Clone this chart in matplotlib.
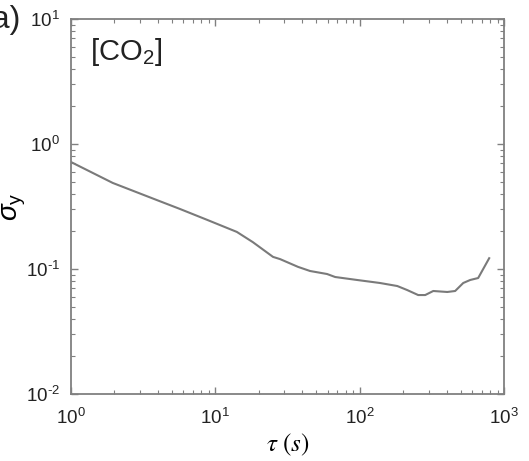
import math
import matplotlib
matplotlib.use('Agg')
import matplotlib.pyplot as plt
from matplotlib.ticker import LogLocator, FuncFormatter, NullFormatter

plt.rcParams['font.family'] = ['Liberation Sans', 'DejaVu Sans']
plt.rcParams['mathtext.fontset'] = 'custom'
plt.rcParams['mathtext.rm'] = 'Liberation Sans'
plt.rcParams['mathtext.it'] = 'Liberation Sans:italic'

# allan deviation of CO2
tau = [1.0, 1.95, 3.94, 5.7, 8.8, 14.1, 18.2, 25.1, 28.1, 37.4, 45.3, 59.4,
       67.6, 95.9, 138, 182, 213, 254, 284, 323, 404, 458, 521, 582, 661, 716, 788]
sigma = [0.718, 0.488, 0.356, 0.302, 0.247, 0.198, 0.164, 0.125, 0.120, 0.104,
         0.0964, 0.0912, 0.0863, 0.0817, 0.0773, 0.0731, 0.0679, 0.0619, 0.0619,
         0.0667, 0.0655, 0.0667, 0.0773, 0.0817, 0.0847, 0.100, 0.122]


def decade(v, p):
    e = round(math.log10(v))
    s = str(e).replace('-', r'\text{-}')
    return r'$\mathregular{10^{%s}}$' % s


grey = '#808080'
fig = plt.figure(figsize=(5.29, 4.61), dpi=100)
ax = fig.add_axes([0.134, 0.1453, 0.819, 0.8135])
ax.plot(tau, sigma, color='#7a7a7a', lw=1.5)
ax.set_xscale('log')
ax.set_yscale('log')
ax.set_xlim(1, 1000)
ax.set_ylim(0.01, 10)

ax.xaxis.set_major_formatter(FuncFormatter(decade))
ax.yaxis.set_major_formatter(FuncFormatter(decade))
ax.xaxis.set_minor_locator(LogLocator(base=10, subs=range(2, 10)))
ax.yaxis.set_minor_locator(LogLocator(base=10, subs=range(2, 10)))
ax.xaxis.set_minor_formatter(NullFormatter())
ax.yaxis.set_minor_formatter(NullFormatter())
ax.tick_params(which='both', direction='in', top=True, right=True, color=grey,
               labelsize=13.5, labelcolor='#222222')
ax.tick_params(which='major', length=5, width=1)
ax.tick_params(which='minor', length=3, width=0.8)
ax.tick_params(axis='x', pad=10)
ax.tick_params(axis='y', pad=8)
for s in ax.spines.values():
    s.set_color(grey)
    s.set_linewidth(1.3)

ax.set_xlabel(r'$\tau\ (s)$', fontsize=18, math_fontfamily='stix')
ax.xaxis.set_label_coords(0.5, -0.1)
ax.set_ylabel(r'$\sigma_\mathregular{y}$', fontsize=20)
ax.yaxis.set_label_coords(-0.1, 0.5)
ax.text(0.044, 0.955, r'[CO$_\mathregular{2}$]', transform=ax.transAxes, fontsize=21,
        va='top', ha='left', color='#222222')
fig.text(-0.035, 0.99, '(a)', fontsize=23, va='top', ha='left', color='#222222')

fig.savefig('out.png', dpi=100)
